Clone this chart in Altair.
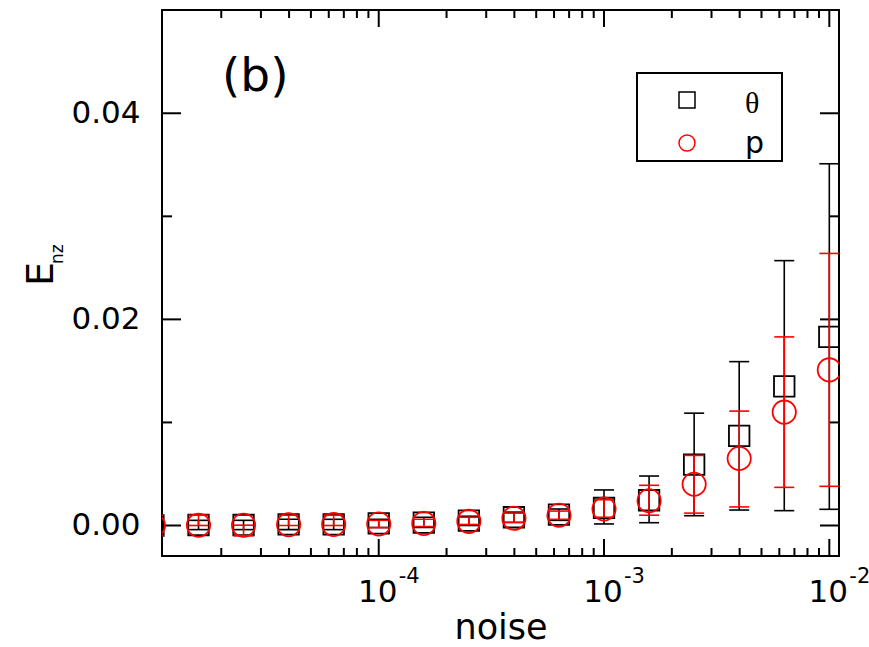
import altair as alt
import pandas as pd

# ---------------- data ----------------
noise = [1.0e-5, 1.585e-5, 2.512e-5, 3.981e-5, 6.310e-5, 1.0e-4, 1.585e-4, 2.512e-4,
         3.981e-4, 6.310e-4, 1.0e-3, 1.585e-3, 2.512e-3, 3.981e-3, 6.310e-3, 1.0e-2]

theta_mean = [0.0, 0.00005, 0.00005, 0.0001, 0.0001, 0.0002, 0.00027, 0.00047,
              0.0008, 0.00105, 0.0017, 0.00245, 0.0059, 0.0087, 0.0135, 0.0183]
theta_lo = [-0.0005, -0.0004, -0.0004, -0.0004, -0.0004, -0.0002, -0.0002, 0.0,
            0.0003, 0.0005, 0.00015, 0.00027, 0.00095, 0.0015, 0.00144, 0.00157]
theta_hi = [0.0005, 0.0005, 0.0005, 0.0006, 0.0006, 0.0006, 0.0008, 0.0009,
            0.0013, 0.0016, 0.00345, 0.0048, 0.0109, 0.0159, 0.0257, 0.0351]

p_mean = [0.0, 0.00003, 0.00003, 0.00008, 0.0001, 0.00015, 0.0002, 0.0004,
          0.0007, 0.001, 0.0016, 0.0024, 0.0040, 0.0065, 0.0110, 0.0151]
p_lo = [-0.001, 0.0, -0.001, 0.0, 0.0, -0.0002, -0.0001, 0.0001,
        0.0003, 0.0006, 0.0008, 0.0010, 0.0012, 0.0018, 0.0037, 0.0038]
p_hi = [0.001, 0.001, 0.00003, 0.001, 0.001, 0.0005, 0.0006, 0.0008,
        0.0012, 0.0014, 0.0025, 0.0039, 0.0068, 0.0111, 0.0183, 0.0264]

y_major = [0.0, 0.02, 0.04]
y_minor = [0.01, 0.03]
x_major = [1e-4, 1e-3, 1e-2]
x_minor = [m * 10.0 ** e for e in (-5, -4, -3) for m in range(2, 10)]
x_label_base = ["10", "10", "10"]
x_label_exp = ["-4", "-3", "-2"]

series_names = ["\u03b8", "p"]
x_title = "noise"
y_title = "E"
y_title_sub = "nz"
panel_label = "(b)"

# ---------------- layout ----------------
W, H = 677, 546
FONT = "DejaVu Sans"

xscale = alt.Scale(type="log", domain=[1.0914e-5, 0.011041], nice=False)
yscale = alt.Scale(domain=[-0.00296, 0.05002], nice=False, zero=False)
yaxis = alt.Axis(values=y_major, format=".2f", labelFont=FONT, labelFontSize=31,
                 labelColor="black", labelPadding=22, ticks=False, tickSize=0,
                 domain=False, grid=False, title=None)


def X(f):
    return alt.X(f, type="quantitative", scale=xscale, axis=None)


def Y(f):
    return alt.Y(f, type="quantitative", scale=yscale, axis=yaxis)


df = pd.DataFrame({"noise": noise,
                   "t_mean": theta_mean, "t_lo": theta_lo, "t_hi": theta_hi,
                   "p_mean": p_mean, "p_lo": p_lo, "p_hi": p_hi})
base = alt.Chart(df)

# ---------------- axis ticks (inward, mirrored) ----------------
ymaj = alt.Chart(pd.DataFrame({"v": y_major}))
ymin = alt.Chart(pd.DataFrame({"v": y_minor}))
xmaj = alt.Chart(pd.DataFrame({"v": x_major}))
xmin = alt.Chart(pd.DataFrame({"v": x_minor}))

tick_layers = [
    ymaj.mark_rule(color="black", strokeWidth=2).encode(y=Y("v"), x=alt.value(0), x2=alt.value(19)),
    ymaj.mark_rule(color="black", strokeWidth=2).encode(y=Y("v"), x=alt.value(W - 19), x2=alt.value(W)),
    ymin.mark_rule(color="black", strokeWidth=2).encode(y=Y("v"), x=alt.value(0), x2=alt.value(10)),
    ymin.mark_rule(color="black", strokeWidth=2).encode(y=Y("v"), x=alt.value(W - 10), x2=alt.value(W)),
    xmaj.mark_rule(color="black", strokeWidth=2).encode(x=X("v"), y=alt.value(H - 17), y2=alt.value(H)),
    xmaj.mark_rule(color="black", strokeWidth=2).encode(x=X("v"), y=alt.value(0), y2=alt.value(17)),
    xmin.mark_rule(color="black", strokeWidth=2).encode(x=X("v"), y=alt.value(H - 8), y2=alt.value(H)),
    xmin.mark_rule(color="black", strokeWidth=2).encode(x=X("v"), y=alt.value(0), y2=alt.value(8)),
]

# ---------------- data marks ----------------
def series(prefix, color, shape, size):
    bar = base.mark_rule(color=color, strokeWidth=1.6, clip=True).encode(
        x=X("noise"), y=Y(prefix + "_lo"), y2=prefix + "_hi")
    cap_lo = base.mark_tick(color=color, orient="horizontal", size=20, thickness=1.6,
                            opacity=1, clip=True).encode(x=X("noise"), y=Y(prefix + "_lo"))
    cap_hi = base.mark_tick(color=color, orient="horizontal", size=20, thickness=1.6,
                            opacity=1, clip=True).encode(x=X("noise"), y=Y(prefix + "_hi"))
    pts = base.mark_point(shape=shape, filled=False, color=color, size=size, strokeWidth=1.8,
                          opacity=1, clip=True).encode(x=X("noise"), y=Y(prefix + "_mean"))
    return [bar, cap_lo, cap_hi, pts]


data_layers = series("t", "black", "square", 420) + series("p", "#ff0000", "circle", 540)

# ---------------- x tick labels with superscripts ----------------
xlab = alt.Chart(pd.DataFrame({"v": x_major, "b": x_label_base, "e": x_label_exp}))
label_layers = [
    xlab.mark_text(font=FONT, fontSize=31, align="center", baseline="alphabetic",
                   color="black", dx=-1).encode(x=X("v"), y=alt.value(592), text="b:N"),
    xlab.mark_text(font=FONT, fontSize=21, align="left", baseline="alphabetic",
                   color="black", dx=20).encode(x=X("v"), y=alt.value(573), text="e:N"),
]


def text_layer(txt, x, y, size, angle=0, font=FONT, align="left"):
    kw = dict(font=font, fontSize=size, align=align, baseline="alphabetic", color="black")
    if angle:
        kw["angle"] = angle
    return alt.Chart(pd.DataFrame({"t": [txt]})).mark_text(**kw).encode(
        x=alt.value(x), y=alt.value(y), text="t:N")


title_layers = [
    text_layer(x_title, 339, 629, 35, align="center"),
    text_layer(y_title, -109, 276, 38, angle=270),
    text_layer(y_title_sub, -99, 254, 17, angle=270),
    text_layer(panel_label, 60, 81, 47),
]

# ---------------- legend (boxed, inside the plot) ----------------
dummy = alt.Chart(pd.DataFrame({"a": [0]}))
legend_layers = [
    dummy.mark_rect(fill="white", stroke="black", strokeWidth=2).encode(
        x=alt.value(475), x2=alt.value(620), y=alt.value(63), y2=alt.value(151)),
    dummy.mark_point(shape="square", filled=False, color="black", size=256, strokeWidth=1.5,
                     opacity=1).encode(x=alt.value(525), y=alt.value(90)),
    dummy.mark_point(shape="circle", filled=False, color="#ff0000", size=256, strokeWidth=1.5,
                     opacity=1).encode(x=alt.value(525), y=alt.value(133)),
    text_layer(series_names[0], 583, 103, 30, font="Liberation Serif"),
    text_layer(series_names[1], 583, 143, 30),
]

chart = alt.layer(*(tick_layers + data_layers + label_layers + title_layers + legend_layers)).properties(
    width=W, height=H,
    autosize=alt.AutoSizeParams(type="none"),
    padding={"left": 162, "top": 10, "right": 30, "bottom": 91},
).configure_view(stroke="black", strokeWidth=2)

chart.save("out.html", embed_options={"renderer": "svg", "actions": False})
